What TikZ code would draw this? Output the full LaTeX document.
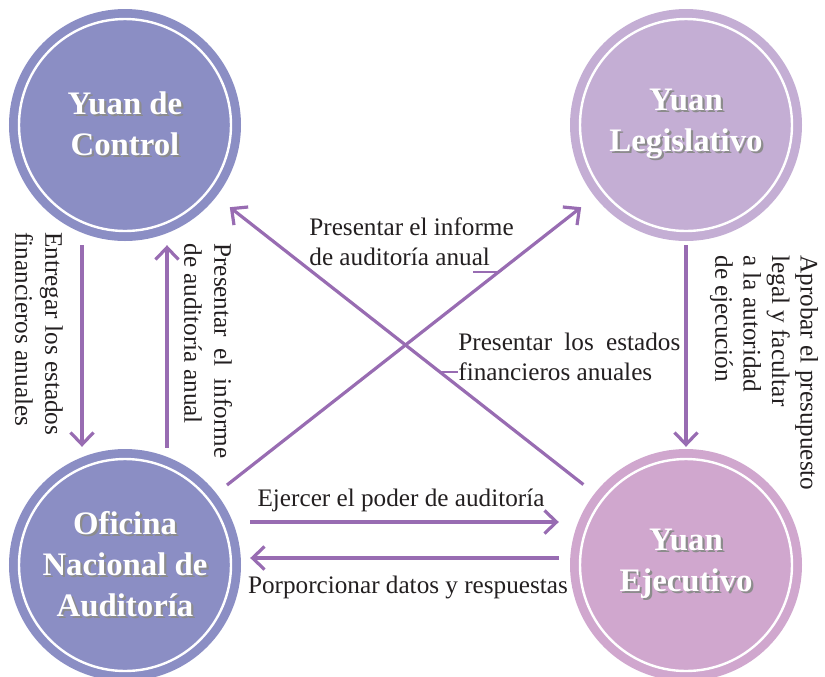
\documentclass[tikz,border=0pt]{standalone}
\usepackage{fontspec}
\setmainfont{Liberation Serif}
\usepackage{tikz}
\usetikzlibrary{arrows.meta,positioning,calc}

\definecolor{ctrlblue}{RGB}{139,142,196}
\definecolor{legislilac}{RGB}{196,174,212}
\definecolor{execpink}{RGB}{208,167,206}
\definecolor{flowpurple}{RGB}{152,108,178}
\definecolor{labeltext}{RGB}{35,31,32}

% white title text with a soft drop shadow
\newcommand{\shadowed}[1]{\makebox[0pt][l]{\hspace{1.1pt}\raisebox{-1.1pt}{\color{black!45}#1}}#1}

\begin{document}
\begin{tikzpicture}[x=0.5pt,y=-0.5pt,
    yuan/.style={circle, minimum size=106pt, inner sep=0pt, fill=#1, draw=white, line width=1.2pt,
        preaction={draw=#1, line width=10pt},
        text=white, align=center, font=\fontsize{16.4}{20.5}\selectfont\bfseries},
    flow/.style={-{Straight Barb[length=6pt,width=11.5pt]}, flowpurple, line width=1.6pt},
    lead/.style={flowpurple, line width=1.3pt},
    lbl/.style={text=labeltext, font=\fontsize{12.6}{15}\selectfont, inner sep=0pt}]

    \useasboundingbox (0,0) rectangle (825,676);

    % The four bodies
    \node[yuan=ctrlblue] (ctrl) at (125,125) {\shadowed{Yuan de}\\\shadowed{Control}};
    \node[yuan=legislilac] (legis) at (686,125) {\shadowed{Yuan}\\\shadowed{Legislativo}};
    \node[yuan=ctrlblue] (audit) at (125,565) {\shadowed{Oficina}\\\shadowed{Nacional de}\\\shadowed{Auditoría}};
    \node[yuan=execpink] (exec) at (686,565) {\shadowed{Yuan}\\\shadowed{Ejecutivo}};

    % Vertical flows
    \draw[flow, shorten <=6.5pt, shorten >=5.5pt] ([xshift=-21.5pt]ctrl.south) -- ([xshift=-21.5pt]audit.north);
    \draw[flow, shorten <=5pt, shorten >=6.5pt] ([xshift=21pt]audit.north) -- ([xshift=21pt]ctrl.south);
    \draw[flow, shorten <=6.5pt, shorten >=5.5pt] (legis.south) -- (exec.north);

    % Horizontal flows
    \draw[flow, shorten <=9pt, shorten >=10pt] ([yshift=21.5pt]audit.east) -- ([yshift=21.5pt]exec.west);
    \draw[flow, shorten <=10pt, shorten >=9pt] ([yshift=3.5pt]exec.west) -- ([yshift=3.5pt]audit.east);

    % Diagonal flows
    \draw[flow, shorten <=11.2pt, shorten >=13pt] (audit) -- coordinate[pos=0.737] (legA) (legis);
    \draw[flow, shorten <=11.6pt, shorten >=13pt] (exec) -- coordinate[pos=0.412] (legB) (ctrl);

    % Labels
    \node[lbl, rotate=-90, anchor=west, align=left] (entregar) at (39,232) {Entregar los estados\\financieros anuales};
    \node[lbl, rotate=-90, anchor=west, align=left] (informeV) at (208,243) {\makebox[107.5pt][s]{Presentar el informe}\\de auditoría anual};
    \node[lbl, rotate=-90, anchor=west, align=left, font=\fontsize{12.6}{14.2}\selectfont] (aprobar) at (764,255)
        {Aprobar el presupuesto\\legal y facultar\\a la autoridad\\de ejecución};
    \node[lbl, anchor=west, align=left] (infoA) at (309,242) {Presentar el informe\\de auditoría anual};
    \node[lbl, anchor=west, align=left] (infoB) at (458,357) {\makebox[111pt][s]{Presentar los estados}\\financieros anuales};
    \node[lbl] (ejercer) at (401,500) {Ejercer el poder de auditoría};
    \node[lbl] (porporcionar) at (408,587) {Porporcionar datos y respuestas};

    % Leader lines
    \draw[lead] (legA) -- ++(-25,0);
    \draw[lead] (legB) -- (legB -| infoB.west);
\end{tikzpicture}
\end{document}
